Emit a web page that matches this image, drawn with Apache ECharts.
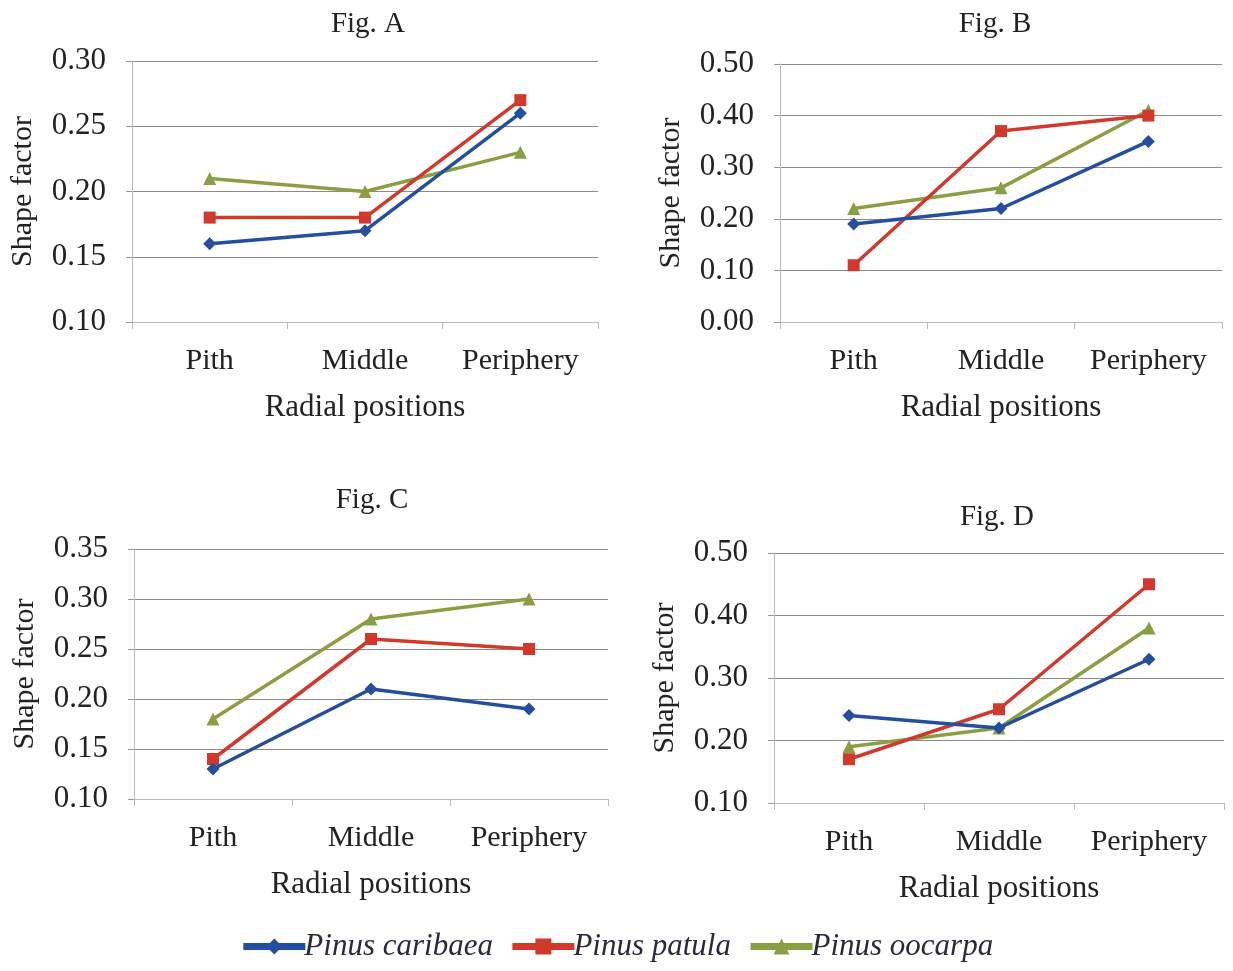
<!DOCTYPE html>
<html>
<head>
<meta charset="utf-8">
<script src="https://cdn.jsdelivr.net/npm/echarts@6/dist/echarts.min.js"></script>
<style>
  html, body { margin: 0; padding: 0; background: #fff; }
  #chart { width: 1233px; height: 971px; }
</style>
</head>
<body>
<div id="chart"></div>
<script>
// Radial positions along the stem
const categories = ['Pith', 'Middle', 'Periphery'];
const speciesNames = ['Pinus caribaea', 'Pinus patula', 'Pinus oocarpa'];

// Shape factor, Fig. A
const figA_caribaea = [0.16, 0.17, 0.26];
const figA_patula   = [0.18, 0.18, 0.27];
const figA_oocarpa  = [0.21, 0.20, 0.23];

// Shape factor, Fig. B
const figB_caribaea = [0.19, 0.22, 0.35];
const figB_patula   = [0.11, 0.37, 0.40];
const figB_oocarpa  = [0.22, 0.26, 0.41];

// Shape factor, Fig. C
const figC_caribaea = [0.13, 0.21, 0.19];
const figC_patula   = [0.14, 0.26, 0.25];
const figC_oocarpa  = [0.18, 0.28, 0.30];

// Shape factor, Fig. D
const figD_caribaea = [0.24, 0.22, 0.33];
const figD_patula   = [0.17, 0.25, 0.45];
const figD_oocarpa  = [0.19, 0.22, 0.38];

// Axis ranges per panel: [min, max, interval]
const yRangeA = [0.10, 0.30, 0.05];
const yRangeB = [0.00, 0.50, 0.10];
const yRangeC = [0.10, 0.35, 0.05];
const yRangeD = [0.10, 0.50, 0.10];

const panelTitles = ['Fig. A', 'Fig. B', 'Fig. C', 'Fig. D'];

const FONT = '"Liberation Serif", "DejaVu Serif", serif';
const TEXT = '#222';
const colors = ['#244f9e', '#d0392b', '#8a9e42'];
const symbols = ['diamond', 'rect', 'triangle'];

const panels = [
  { title: panelTitles[0], range: yRangeA, data: [figA_caribaea, figA_patula, figA_oocarpa],
    grid: { left: 132, top: 61, width: 466, height: 261 }, titlePos: [363, 5] },
  { title: panelTitles[1], range: yRangeB, data: [figB_caribaea, figB_patula, figB_oocarpa],
    grid: { left: 780, top: 64, width: 442, height: 258 }, titlePos: [990, 5] },
  { title: panelTitles[2], range: yRangeC, data: [figC_caribaea, figC_patula, figC_oocarpa],
    grid: { left: 134, top: 549, width: 474, height: 250 }, titlePos: [367, 481] },
  { title: panelTitles[3], range: yRangeD, data: [figD_caribaea, figD_patula, figD_oocarpa],
    grid: { left: 774, top: 553, width: 450, height: 250 }, titlePos: [992, 498] }
];

const grids = [], xAxes = [], yAxes = [], titles = [], series = [];

panels.forEach((p, i) => {
  grids.push(Object.assign({ containLabel: false }, p.grid));
  titles.push({
    text: p.title, left: p.titlePos[0], top: p.titlePos[1], textAlign: 'center',
    textStyle: { fontFamily: FONT, fontSize: 29, fontWeight: 'normal', color: TEXT }
  });
  xAxes.push({
    type: 'category', gridIndex: i, data: categories, boundaryGap: true,
    name: 'Radial positions', nameLocation: 'middle', nameGap: 70,
    nameTextStyle: { fontFamily: FONT, fontSize: 31, color: TEXT },
    axisLine: { show: true, lineStyle: { color: '#bbb', width: 1 } },
    axisTick: { show: true, length: 7, lineStyle: { color: '#bbb' } },
    axisLabel: { fontFamily: FONT, fontSize: 30, color: TEXT, margin: 24, interval: 0, hideOverlap: false }
  });
  yAxes.push({
    type: 'value', gridIndex: i, min: p.range[0], max: p.range[1], interval: p.range[2],
    name: 'Shape factor', nameLocation: 'middle', nameGap: 94, nameRotate: 90,
    nameTextStyle: { fontFamily: FONT, fontSize: 30, color: TEXT },
    axisLine: { show: true, lineStyle: { color: '#bbb', width: 1 } },
    axisTick: { show: true, length: 6, lineStyle: { color: '#999' } },
    splitLine: { show: true, lineStyle: { color: '#8a8a8a', width: 1 } },
    axisLabel: {
      fontFamily: FONT, fontSize: 31, color: TEXT, margin: 26,
      formatter: v => v.toFixed(2)
    }
  });
  p.data.forEach((vals, s) => {
    series.push({
      name: speciesNames[s], type: 'line', xAxisIndex: i, yAxisIndex: i,
      data: vals, symbol: symbols[s], symbolSize: s === 1 ? 12 : 13,
      z: 3 - s,
      lineStyle: { color: colors[s], width: 3.5 },
      itemStyle: { color: colors[s] },
      emphasis: { disabled: true }
    });
  });
});

const chart = echarts.init(document.getElementById('chart'), null, { renderer: 'canvas' });
chart.setOption({
  animation: false,
  backgroundColor: '#fff',
  title: titles,
  grid: grids,
  xAxis: xAxes,
  yAxis: yAxes,
  legend: {
    data: speciesNames, bottom: 4, left: 'center',
    itemWidth: 62, itemHeight: 20, itemGap: 16,
    lineStyle: { width: 7 },
    textStyle: { fontFamily: FONT, fontSize: 31, fontStyle: 'italic', color: '#2a2a3a', padding: [0, 0, 0, -6] }
  },
  series: series
});
</script>
</body>
</html>
